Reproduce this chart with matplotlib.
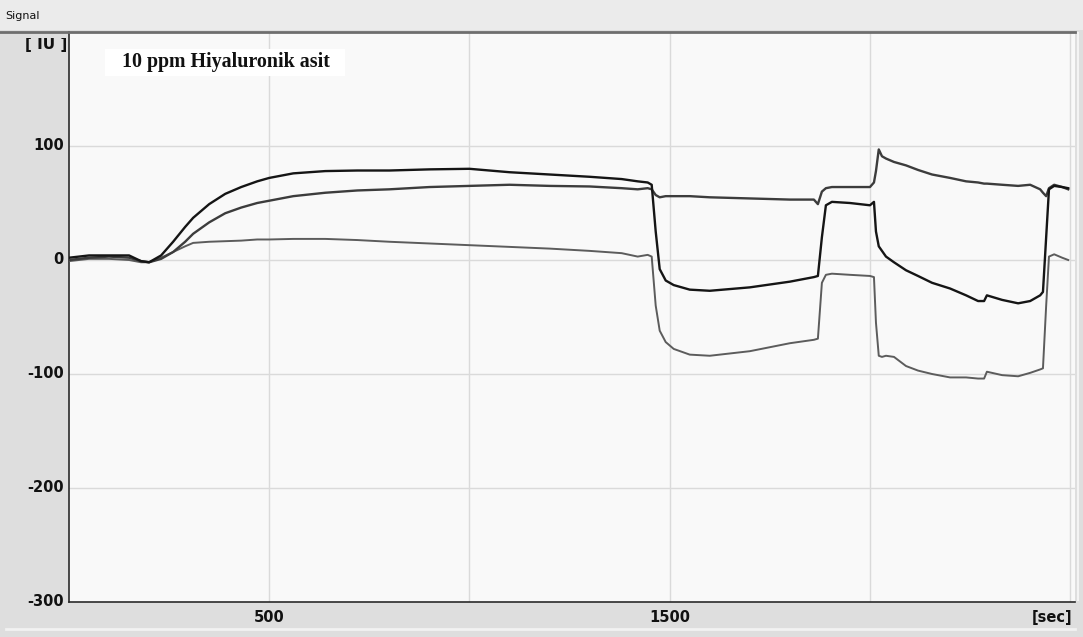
import matplotlib.pyplot as plt
from matplotlib.patches import Rectangle
from matplotlib.lines import Line2D

# sample times (sec) shared by the three channels
t_sec = [0, 50, 100, 150, 180, 200, 230, 260, 290, 310,
         350, 390, 430, 470, 500, 560, 640, 720, 800, 900,
         1000, 1100, 1200, 1300, 1380, 1420, 1445, 1455, 1465, 1475,
         1490, 1510, 1550, 1600, 1700, 1800, 1860, 1870, 1880, 1890,
         1905, 1950, 2000, 2010, 2015, 2022, 2030, 2040, 2060, 2090,
         2120, 2155, 2200, 2240, 2270, 2285, 2292, 2330, 2370, 2400,
         2425, 2432, 2440, 2447, 2460, 2480, 2495]

ch1 = [2, 4, 4, 4, -1, -2, 4, 16, 29, 37,
       49, 58, 64, 69, 72, 76, 78, 78.5, 78.5, 79.5,
       80, 77, 75, 73, 71, 69, 68, 66, 25, -8,
       -18, -22, -26, -27, -24, -19, -15, -14, 20, 48,
       51, 50, 48, 51, 25, 12, 8, 3, -2, -9,
       -14, -20, -25, -31, -36, -36, -31, -35, -38, -36,
       -31, -28, 20, 62, 65, 64, 63]

ch2 = [0, 2, 3, 2, -1, -2, 1, 7, 16, 23,
       33, 41, 46, 50, 52, 56, 59, 61, 62, 64,
       65, 66, 65, 64.5, 63, 62, 63, 62, 57, 55,
       56, 56, 56, 55, 54, 53, 53, 49, 60, 63,
       64, 64, 64, 68, 78, 97, 91, 89, 86, 83,
       79, 75, 72, 69, 68, 67, 67, 66, 65, 66,
       62, 59, 56, 63, 66, 64, 62]

ch3 = [-1, 1, 1, 0, -2, -2, 2, 7, 12, 15,
       16, 16.5, 17, 18, 18, 18.5, 18.5, 17.5, 16, 14.5,
       13, 11.5, 10, 8, 6, 3, 4.5, 3, -40, -62,
       -72, -78, -83, -84, -80, -73, -70, -69, -20, -13,
       -12, -13, -14, -15, -55, -84, -85, -84, -85, -93,
       -97, -100, -103, -103, -104, -104, -98, -101, -102, -99,
       -96, -95, -40, 3, 5, 2, 0]

y_ticks = [-300, -200, -100, 0, 100]
x_labels = {500: "500", 1500: "1500"}

W, H = 1083, 637
panel = "#dedede"
fig = plt.figure(figsize=(W / 100, H / 100), dpi=100)
fig.patch.set_facecolor(panel)


def fx(px):
    return px / W


def fy(py):
    # pixel row from the top -> figure fraction
    return 1 - py / H


# plot area in pixel terms
left, right, top, bottom = 69, 1075, 32, 602
ax = fig.add_axes([fx(left), fy(bottom), (right - left) / W, (bottom - top) / H])
ax.set_facecolor("#f9f9f9")
ax.set_xlim(0, 2512)
ax.set_ylim(-300, 200)

for x in [500, 1000, 1500, 2000, 2500]:
    ax.axvline(x, color="#dadada", lw=1.0, zorder=1)
for y in [-200, -100, 0, 100]:
    ax.axhline(y, color="#dadada", lw=1.0, zorder=1)

ax.plot(t_sec, ch3, color="#5c5c5c", lw=1.4, zorder=3)
ax.plot(t_sec, ch2, color="#3c3c3c", lw=1.7, zorder=4)
ax.plot(t_sec, ch1, color="#151515", lw=1.7, zorder=5)

ax.set_xticks([])
ax.set_yticks([])
for s in ["top", "right"]:
    ax.spines[s].set_visible(False)
ax.spines["left"].set_color("#2a2a2a")
ax.spines["bottom"].set_color("#2a2a2a")
ax.spines["left"].set_linewidth(1.2)
ax.spines["bottom"].set_linewidth(1.2)

lab = dict(fontsize=10.5, fontweight="bold", color="#111111", family="DejaVu Sans")
for v in y_ticks:
    ax.text(-0.005, v, str(v), transform=ax.get_yaxis_transform(),
            ha="right", va="center", **lab)
for x, s in x_labels.items():
    ax.text(x, -0.027, s, transform=ax.get_xaxis_transform(),
            ha="center", va="center", **lab)
ax.text(0.997, -0.027, "[sec]", transform=ax.transAxes, ha="right", va="center", **lab)

# caption box inside the plot
fig.add_artist(Rectangle((fx(105), fy(76)), (345 - 105) / W, 27 / H,
                         transform=fig.transFigure, fc="white", ec="none", zorder=2))
fig.text(fx(122), fy(62.5), "10 ppm Hiyaluronik asit", ha="left", va="center",
         fontsize=14.4, fontweight="bold", family="Liberation Serif",
         color="#111111", zorder=3)

# unit label, its top hidden under a strip of the side panel
fig.text(fx(46), fy(45), "[ IU ]", ha="center", va="center",
         fontsize=11, fontweight="bold", color="#111111", zorder=1)
fig.add_artist(Rectangle((0, fy(38)), fx(left - 1), 8 / H, transform=fig.transFigure,
                         fc=panel, ec="none", zorder=9))

# header bar with window title
fig.add_artist(Rectangle((0, fy(30)), 1, 30 / H, transform=fig.transFigure,
                         fc="#ebebeb", ec="none", zorder=10))
fig.add_artist(Line2D([0, fx(right)], [fy(31.5)] * 2, transform=fig.transFigure,
                      color="#6e6e6e", lw=2.0, zorder=11))
fig.text(fx(5), fy(16), "Signal", ha="left", va="center",
         fontsize=8, color="#111111", zorder=12)

# right border and bottom strip
fig.add_artist(Line2D([fx(1078)] * 2, [fy(600), fy(33)], transform=fig.transFigure,
                      color="#f4f4f4", lw=1.5, zorder=2))
fig.add_artist(Line2D([fx(6), fx(1075)], [fy(629)] * 2, transform=fig.transFigure,
                      color="#f2f2f2", lw=2.0, zorder=2))

fig.savefig("out.png", dpi=100, facecolor=fig.get_facecolor())
